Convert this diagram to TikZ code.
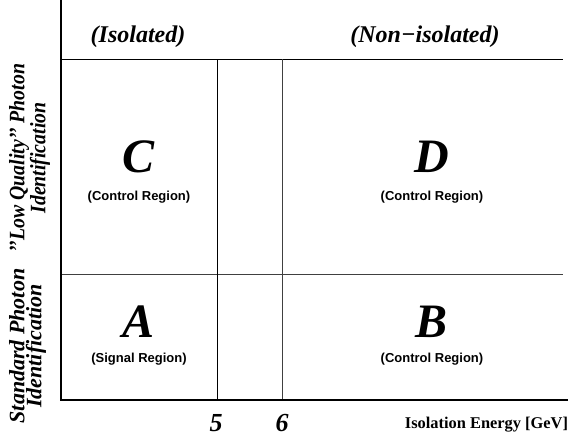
\documentclass[tikz,border=0pt]{standalone}
\usepackage{fontspec}
\setmainfont{Liberation Serif}
\setsansfont{Liberation Sans}
\begin{document}
\begin{tikzpicture}[x=1pt,y=-1pt,
  axis/.style={line width=2.5pt},
  grid/.style={line width=1pt},
  hdr/.style={font=\fontsize{24}{26}\selectfont\bfseries\itshape},
  big/.style={font=\fontsize{48}{50}\selectfont\bfseries\itshape},
  reg/.style={font=\fontsize{13}{15}\selectfont\sffamily\bfseries},
  side/.style={font=\fontsize{22}{21}\selectfont\bfseries\itshape, align=center, rotate=90, inner sep=0pt},
  num/.style={font=\fontsize{26}{28}\selectfont\bfseries\itshape},
  xlab/.style={font=\fontsize{16.4}{18}\selectfont\bfseries}]
\useasboundingbox (0,0) rectangle (578,439);
\coordinate (top) at (61,0);
\coordinate (org) at (61,400);
\coordinate (xend) at (568,400);
\coordinate (tl) at (61,59);
\coordinate (tr) at (563,59);
\coordinate (ml) at (61,274);
\coordinate (mr) at (563,274);
\coordinate (v5t) at (217,59);
\coordinate (v5b) at (217,400);
\coordinate (v6t) at (282,59);
\coordinate (v6b) at (282,400);
\draw[grid] (tl) -- (tr);
\draw[grid, black!75] (ml) -- (mr);
\draw[grid] (v5t) -- (v5b);
\draw[grid, black!75] (v6t) -- (v6b);
\draw[axis] (top) -- (org) -- (xend);
\node[hdr] (iso) at (138,37) {(Isolated)};
\node[hdr] (noniso) at (425,37) {(Non−isolated)};
\node[big] (C) at (139,157) {C};
\node[reg] (Cr) at (139,197) {(Control Region)};
\node[big] (D) at (432,157) {D};
\node[reg] (Dr) at (432,197) {(Control Region)};
\node[big] (A) at (139,322) {A};
\node[reg] (Ar) at (139,359) {(Signal Region)};
\node[big] (B) at (432,322) {B};
\node[reg] (Br) at (432,359) {(Control Region)};
\node[side, xscale=0.9] (lq) at (29.5,158) {'{}'Low Quality'{}' Photon\\Identification};
\node[side, font=\fontsize{22}{17}\selectfont\bfseries\itshape] (sp) at (27.5,346) {Standard Photon\\Identification};
\node[num] (n5) at (216,423) {5};
\node[num] (n6) at (282,423) {6};
\node[xlab] (xl) at (486.5,425) {Isolation Energy [GeV]};
\end{tikzpicture}
\end{document}
